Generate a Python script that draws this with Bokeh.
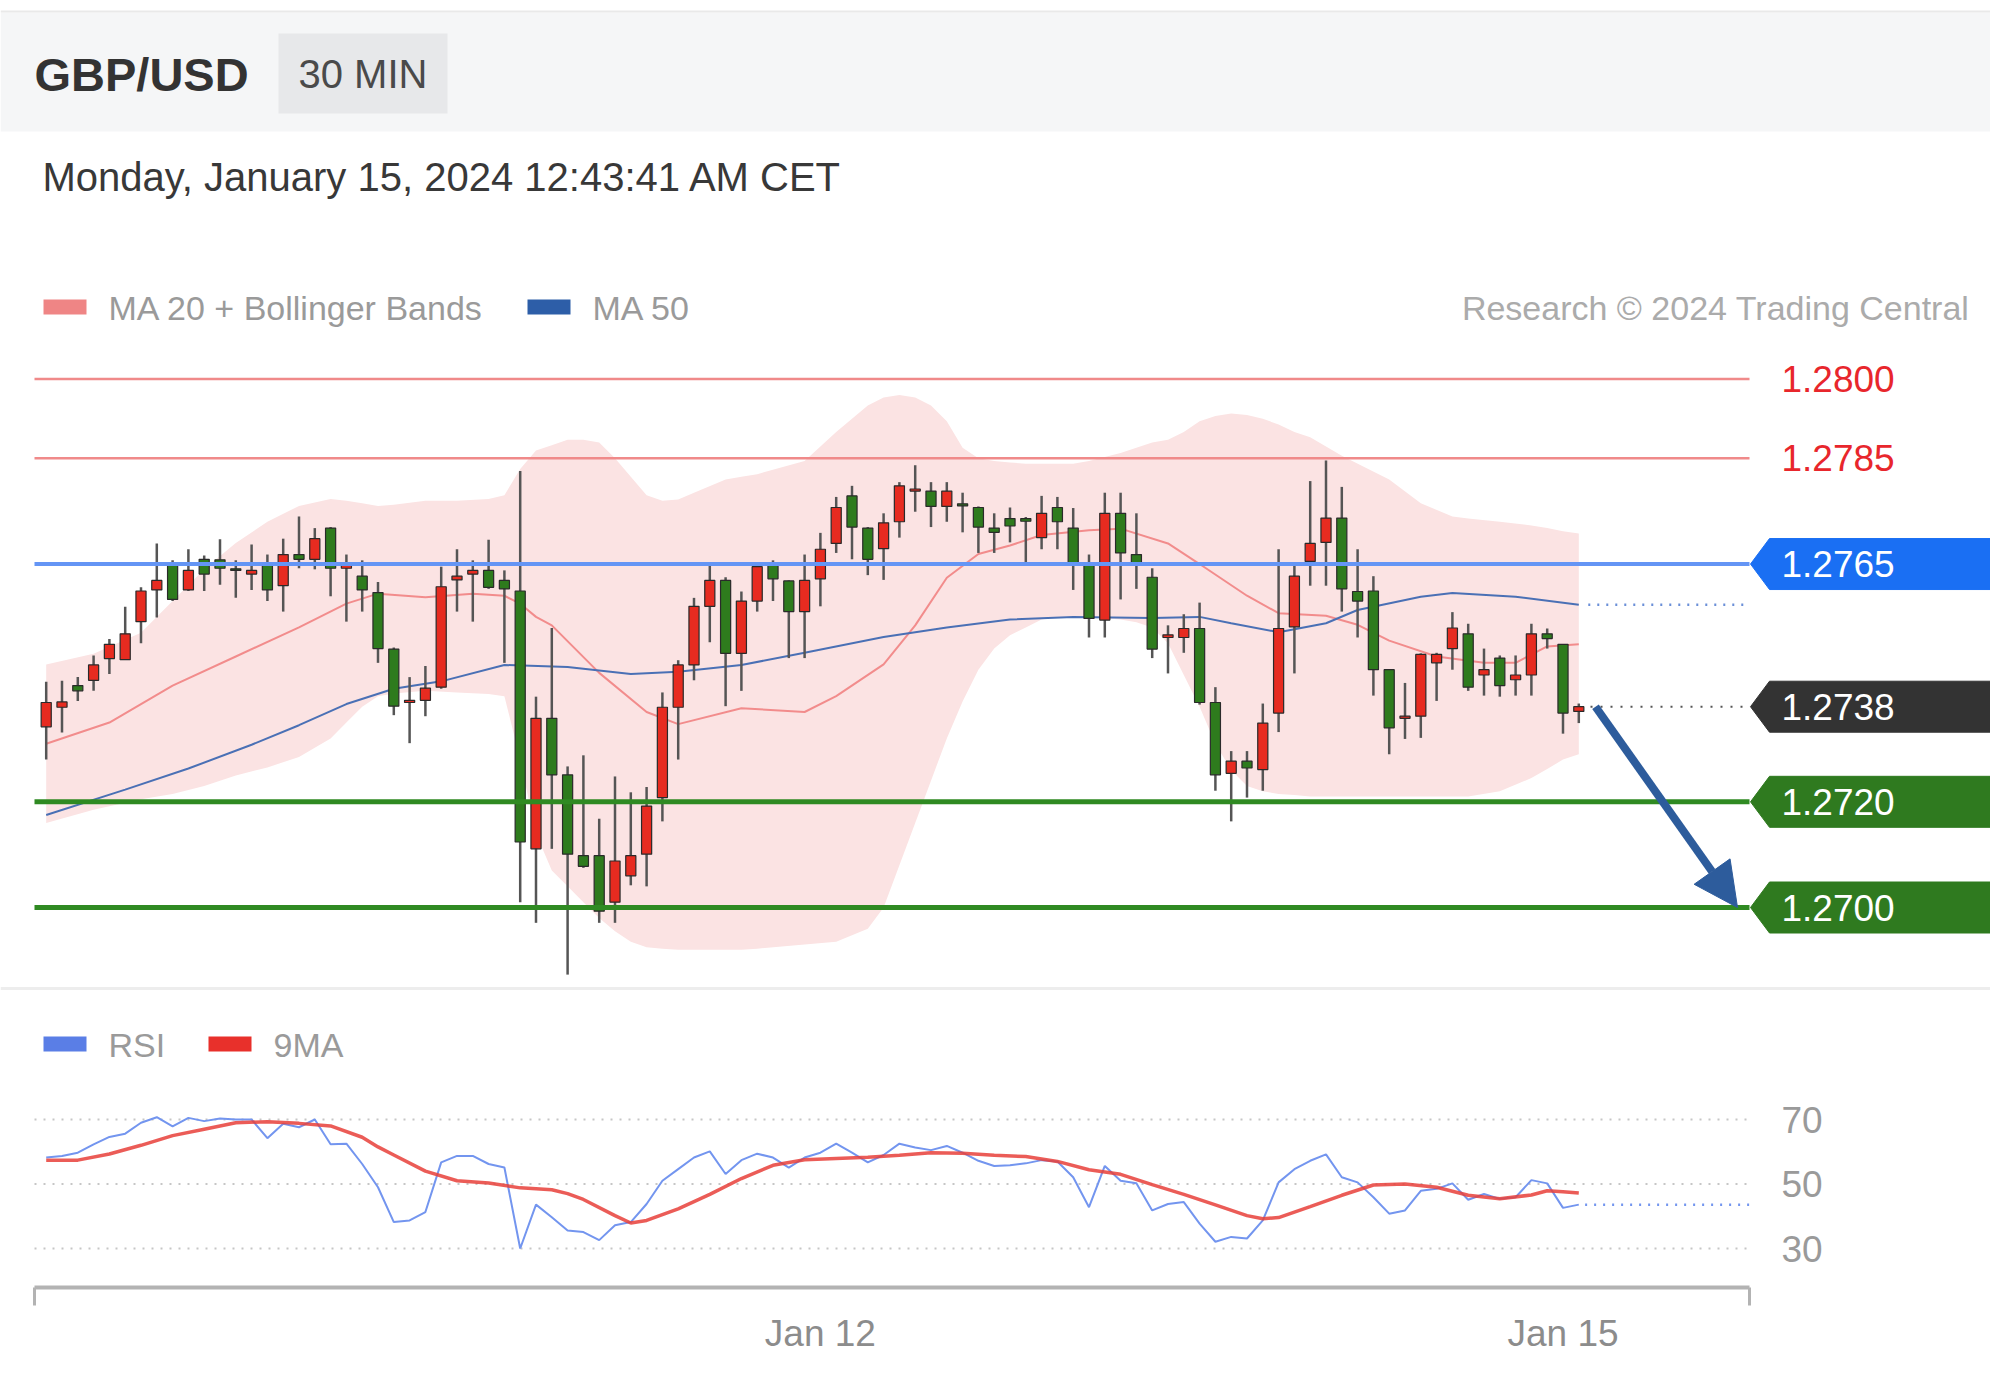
from bokeh.plotting import figure
from bokeh.models import Range1d, FixedTicker, Label, Arrow, NormalHead, ColumnDataSource
from bokeh.embed import file_html
from bokeh.resources import INLINE

# ---------------- data ----------------
symbol = "GBP/USD"
timeframe = "30 MIN"
timestamp = "Monday, January 15, 2024 12:43:41 AM CET"
legend_main = ["MA 20 + Bollinger Bands", "MA 50"]
legend_rsi = ["RSI", "9MA"]
credit = "Research \u00a9 2024 Trading Central"

opens = [1.27342, 1.27379, 1.27420, 1.27430, 1.27471, 1.27469, 1.27541, 1.27601, 1.27651, 1.27601,
         1.27659, 1.27658, 1.27641, 1.27631, 1.27648, 1.27609, 1.27668, 1.27659, 1.27718, 1.27642,
         1.27627, 1.27596, 1.27489, 1.27388, 1.27392, 1.27417, 1.27620, 1.27631, 1.27638, 1.27619,
         1.27599, 1.27111, 1.27358, 1.27251, 1.27098, 1.27098, 1.27010, 1.27060, 1.27101, 1.27208,
         1.27379, 1.27459, 1.27570, 1.27619, 1.27481, 1.27580, 1.27648, 1.27618, 1.27560, 1.27622,
         1.27689, 1.27779, 1.27718, 1.27679, 1.27730, 1.27788, 1.27788, 1.27759, 1.27764, 1.27757,
         1.27718, 1.27736, 1.27736, 1.27700, 1.27757, 1.27718, 1.27651, 1.27544, 1.27746, 1.27668,
         1.27625, 1.27511, 1.27511, 1.27528, 1.27388, 1.27254, 1.27277, 1.27261, 1.27368, 1.27531,
         1.27655, 1.27691, 1.27737, 1.27598, 1.27599, 1.27450, 1.27358, 1.27362, 1.27463, 1.27490,
         1.27518, 1.27440, 1.27472, 1.27431, 1.27440, 1.27518, 1.27498, 1.27371]
highs = [1.27427, 1.27429, 1.27436, 1.27477, 1.27508, 1.27569, 1.27606, 1.27689, 1.27657, 1.27678,
         1.27666, 1.27697, 1.27657, 1.27687, 1.27668, 1.27698, 1.27740, 1.27718, 1.27720, 1.27668,
         1.27657, 1.27616, 1.27492, 1.27436, 1.27457, 1.27645, 1.27678, 1.27657, 1.27696, 1.27638,
         1.27826, 1.27399, 1.27529, 1.27267, 1.27288, 1.27168, 1.27248, 1.27218, 1.27228, 1.27407,
         1.27468, 1.27586, 1.27648, 1.27625, 1.27598, 1.27648, 1.27657, 1.27619, 1.27668, 1.27709,
         1.27777, 1.27798, 1.27720, 1.27746, 1.27805, 1.27837, 1.27805, 1.27805, 1.27785, 1.27759,
         1.27746, 1.27757, 1.27739, 1.27779, 1.27777, 1.27756, 1.27668, 1.27785, 1.27785, 1.27746,
         1.27642, 1.27534, 1.27555, 1.27577, 1.27417, 1.27296, 1.27296, 1.27386, 1.27678, 1.27651,
         1.27807, 1.27846, 1.27796, 1.27678, 1.27627, 1.27450, 1.27425, 1.27481, 1.27482, 1.27559,
         1.27537, 1.27490, 1.27477, 1.27477, 1.27537, 1.27528, 1.27498, 1.27386]
lows = [1.27280, 1.27331, 1.27391, 1.27410, 1.27442, 1.27469, 1.27500, 1.27549, 1.27580, 1.27599,
        1.27599, 1.27611, 1.27586, 1.27601, 1.27580, 1.27560, 1.27642, 1.27640, 1.27589, 1.27541,
        1.27560, 1.27463, 1.27364, 1.27311, 1.27362, 1.27414, 1.27560, 1.27541, 1.27603, 1.27463,
        1.27010, 1.26971, 1.27111, 1.26873, 1.27075, 1.26971, 1.26971, 1.27042, 1.27040, 1.27163,
        1.27280, 1.27430, 1.27502, 1.27381, 1.27410, 1.27560, 1.27580, 1.27472, 1.27472, 1.27570,
        1.27671, 1.27659, 1.27629, 1.27620, 1.27700, 1.27749, 1.27720, 1.27730, 1.27710, 1.27671,
        1.27671, 1.27691, 1.27651, 1.27678, 1.27678, 1.27601, 1.27511, 1.27511, 1.27583, 1.27603,
        1.27472, 1.27443, 1.27482, 1.27384, 1.27221, 1.27163, 1.27208, 1.27221, 1.27332, 1.27443,
        1.27609, 1.27609, 1.27560, 1.27511, 1.27401, 1.27290, 1.27319, 1.27321, 1.27391, 1.27450,
        1.27410, 1.27401, 1.27399, 1.27401, 1.27401, 1.27490, 1.27329, 1.27349]
closes = [1.27388, 1.27389, 1.27410, 1.27459, 1.27498, 1.27518, 1.27599, 1.27619, 1.27583, 1.27638,
          1.27631, 1.27642, 1.27638, 1.27638, 1.27601, 1.27668, 1.27659, 1.27698, 1.27642, 1.27648,
          1.27601, 1.27490, 1.27381, 1.27392, 1.27415, 1.27607, 1.27627, 1.27638, 1.27606, 1.27603,
          1.27124, 1.27358, 1.27251, 1.27101, 1.27078, 1.26993, 1.27088, 1.27098, 1.27192, 1.27379,
          1.27459, 1.27570, 1.27619, 1.27481, 1.27580, 1.27645, 1.27622, 1.27560, 1.27619, 1.27678,
          1.27757, 1.27720, 1.27659, 1.27728, 1.27798, 1.27792, 1.27759, 1.27788, 1.27760, 1.27720,
          1.27710, 1.27722, 1.27731, 1.27746, 1.27730, 1.27651, 1.27547, 1.27746, 1.27671, 1.27651,
          1.27489, 1.27516, 1.27528, 1.27388, 1.27251, 1.27277, 1.27264, 1.27349, 1.27528, 1.27627,
          1.27689, 1.27737, 1.27603, 1.27580, 1.27450, 1.27340, 1.27362, 1.27479, 1.27479, 1.27529,
          1.27417, 1.27450, 1.27420, 1.27440, 1.27518, 1.27509, 1.27368, 1.27380]

band_idx = [0, 3, 6, 8, 10, 12, 14, 16, 18, 19, 20, 21, 22, 24, 26, 28, 29, 30, 31, 32,
            33, 34, 35, 36, 37, 38, 39, 40, 41, 43, 44, 45, 48, 50, 52, 53, 54, 55, 56, 57,
            58, 59, 60, 61, 62, 63, 64, 65, 66, 68, 69, 70, 71, 72, 73, 74, 75, 76, 77, 78,
            79, 80, 82, 85, 87, 89, 90, 92, 94, 95, 96, 97]
band_upper = [1.27460, 1.27480, 1.27520, 1.27580, 1.27640, 1.27690, 1.27730, 1.27760, 1.27773, 1.27770,
              1.27765, 1.27760, 1.27762, 1.27770, 1.27770, 1.27773, 1.27780, 1.27830, 1.27865, 1.27875,
              1.27885, 1.27885, 1.27880, 1.27850, 1.27815, 1.27780, 1.27770, 1.27772, 1.27785, 1.27810,
              1.27815, 1.27820, 1.27845, 1.27900, 1.27950, 1.27965, 1.27970, 1.27965, 1.27950, 1.27920,
              1.27870, 1.27850, 1.27845, 1.27842, 1.27840, 1.27840, 1.27840, 1.27840, 1.27845, 1.27860,
              1.27870, 1.27880, 1.27885, 1.27900, 1.27920, 1.27930, 1.27935, 1.27932, 1.27925, 1.27914,
              1.27900, 1.27890, 1.27855, 1.27810, 1.27765, 1.27740, 1.27736, 1.27730, 1.27723, 1.27718,
              1.27712, 1.27708]
band_lower = [1.27160, 1.27185, 1.27205, 1.27215, 1.27230, 1.27250, 1.27265, 1.27285, 1.27320, 1.27350,
              1.27380, 1.27400, 1.27405, 1.27410, 1.27407, 1.27404, 1.27400, 1.27280, 1.27140, 1.27070,
              1.27040, 1.27010, 1.26980, 1.26955, 1.26935, 1.26925, 1.26922, 1.26920, 1.26920, 1.26920,
              1.26920, 1.26922, 1.26930, 1.26935, 1.26960, 1.27000, 1.27080, 1.27160, 1.27240, 1.27320,
              1.27390, 1.27450, 1.27490, 1.27515, 1.27530, 1.27545, 1.27550, 1.27550, 1.27550, 1.27545,
              1.27540, 1.27530, 1.27500, 1.27440, 1.27380, 1.27310, 1.27260, 1.27230, 1.27220, 1.27215,
              1.27213, 1.27210, 1.27210, 1.27210, 1.27210, 1.27210, 1.27210, 1.27220, 1.27245, 1.27262,
              1.27280, 1.27290]

ma20_idx = [0, 4, 8, 12, 16, 19, 21, 24, 27, 29, 30, 31, 32, 35, 38, 40, 44, 48, 50, 53,
            55, 57, 59, 61, 63, 66, 68, 71, 73, 76, 78, 81, 83, 85, 88, 91, 93, 95, 97]
ma20 = [1.27310, 1.27350, 1.27420, 1.27475, 1.27530, 1.27575, 1.27594, 1.27587, 1.27594, 1.27590,
        1.27575, 1.27550, 1.27534, 1.27444, 1.27370, 1.27347, 1.27377, 1.27370, 1.27400, 1.27460,
        1.27534, 1.27624, 1.27669, 1.27685, 1.27705, 1.27714, 1.27717, 1.27689, 1.27650, 1.27590,
        1.27557, 1.27552, 1.27535, 1.27505, 1.27475, 1.27463, 1.27463, 1.27494, 1.27498]

ma50_idx = [0, 5, 9, 13, 16, 19, 22, 25, 29, 33, 37, 40, 44, 48, 53, 57, 61, 65, 70, 73,
            75, 78, 81, 83, 87, 89, 93, 97]
ma50 = [1.27175, 1.27223, 1.27263, 1.27308, 1.27345, 1.27385, 1.27414, 1.27428, 1.27459, 1.27455,
        1.27442, 1.27446, 1.27459, 1.27482, 1.27512, 1.27530, 1.27545, 1.27550, 1.27548, 1.27550,
        1.27538, 1.27521, 1.27538, 1.27563, 1.27588, 1.27595, 1.27588, 1.27573]

levels = [1.2800, 1.2785, 1.2765, 1.2738, 1.2720, 1.2700]
level_kinds = ["resistance", "resistance", "pivot", "last", "support", "support"]
target = 1.2700

rsi = [58.2, 58.7, 59.7, 62.3, 64.6, 65.6, 69.0, 70.7, 67.9, 70.5,
       69.5, 70.3, 70.0, 70.0, 64.2, 68.7, 67.6, 70.0, 62.3, 62.5,
       56.2, 49.0, 38.2, 38.7, 41.3, 56.7, 58.7, 58.7, 56.2, 55.1,
       30.0, 43.6, 39.7, 35.6, 35.1, 32.6, 37.2, 38.2, 43.8, 51.0,
       54.6, 58.2, 60.1, 53.1, 57.4, 59.4, 58.2, 55.1, 58.2, 59.7,
       62.5, 59.7, 56.7, 59.0, 62.5, 61.3, 60.5, 61.8, 59.7, 57.2,
       55.6, 55.8, 56.4, 57.4, 57.0, 52.1, 42.8, 55.6, 51.0, 50.2,
       41.8, 43.8, 44.4, 37.7, 32.1, 33.6, 33.1, 38.7, 50.5, 54.6,
       57.2, 59.2, 52.1, 50.5, 45.9, 40.8, 41.8, 47.9, 48.5, 50.2,
       45.1, 46.9, 45.4, 45.9, 51.2, 50.2, 42.6, 43.6]
ma9_idx = [0, 2, 4, 6, 8, 10, 12, 14, 16, 18, 20, 21, 22, 24, 26, 28, 30, 32, 33, 34,
           36, 37, 38, 40, 42, 44, 46, 48, 50, 52, 54, 56, 58, 60, 62, 64, 66, 68, 70, 72,
           74, 76, 77, 78, 80, 82, 84, 86, 88, 90, 92, 94, 95, 96, 97]
ma9 = [57.4, 57.4, 59.3, 62.0, 65.0, 67.0, 69.0, 69.3, 68.8, 68.0,
       64.5, 61.5, 59.0, 54.0, 51.0, 50.3, 48.8, 48.2, 47.0, 45.2,
       40.2, 37.9, 38.7, 42.3, 46.8, 51.7, 55.8, 57.5, 57.9, 58.3,
       58.9, 59.7, 59.5, 58.9, 58.5, 57.0, 54.4, 53.0, 49.8, 46.8,
       43.5, 40.2, 39.2, 39.6, 43.0, 46.5, 49.7, 50.0, 49.0, 46.5,
       45.4, 46.6, 47.9, 47.6, 47.2]
rsi_levels = [70, 50, 30]

tick_idx = [49, 96]
tick_labels = ["Jan 12", "Jan 15"]

# ---------------- layout: reference pixel -> data coordinates ----------------
X0PX, DXPX = 45.7, 15.8                  # x pixel of bar 0, pixels per bar
PY_BASE, PX_PER_PRICE = 907.0, 52840.0   # y pixel of 1.2700, pixels per price unit
R_PY70, R_PY30 = 1119.0, 1248.0          # y pixels of RSI 70 / 30


def X(px):
    return (px - X0PX) / DXPX


def Y(py):
    return 1.27 + (PY_BASE - py) / PX_PER_PRICE


def R(py):
    return 70.0 - (py - R_PY70) * 40.0 / (R_PY30 - R_PY70)


W, H = 1990, 1396
FRAME_BOTTOM = 1287
FONT = "Liberation Sans"

p = figure(width=W, height=H, output_backend="svg", toolbar_location=None,
           x_range=Range1d(X(0), X(W)),
           y_range=Range1d(Y(FRAME_BOTTOM), Y(0)),
           y_axis_location=None)
p.min_border = 0
p.min_border_left = 0
p.min_border_right = 0
p.min_border_top = 0
p.min_border_bottom = H - FRAME_BOTTOM
p.extra_y_ranges = {"rsi": Range1d(R(FRAME_BOTTOM), R(0))}
p.outline_line_color = None
p.grid.visible = False
p.background_fill_color = "white"
p.border_fill_color = "white"

L_PLOT, R_PLOT = X(34), X(1749)


def label(xpx, ypx, text, size, color, bold=False, align="left"):
    p.add_layout(Label(x=X(xpx), y=Y(ypx), text=text, text_font=FONT,
                       text_font_size=f"{size}px", text_color=color,
                       text_font_style="bold" if bold else "normal",
                       text_align=align, text_baseline="middle"))


# ---------------- header ----------------
p.quad(left=X(0), right=X(2000), top=Y(12), bottom=Y(131), fill_color="#f5f6f7", line_color=None)
p.segment(x0=X(0), y0=Y(11), x1=X(2000), y1=Y(11), line_color="#e9e9e9", line_width=2)
p.quad(left=X(278), right=X(447), top=Y(33), bottom=Y(113), fill_color="#e7e8ea", line_color=None)
label(34, 74, symbol, 47, "#333333", bold=True)
label(298, 73, timeframe, 40, "#4a4a4a")
label(42, 176, timestamp, 40, "#383838")

# main legend
p.quad(left=X(43), right=X(86), top=Y(299), bottom=Y(314), fill_color="#ef8585", line_color=None)
label(108, 307, legend_main[0], 34, "#9a9a9a")
p.quad(left=X(527), right=X(570), top=Y(299), bottom=Y(314), fill_color="#2d5ea8", line_color=None)
label(592, 307, legend_main[1], 34, "#9a9a9a")
label(1969, 307, credit, 34, "#ababab", align="right")

# ---------------- price panel ----------------
p.varea(x=band_idx, y1=band_lower, y2=band_upper, fill_color="#fbe3e3")
p.line(ma20_idx, ma20, line_color="#f28c8c", line_width=2)
p.line(ma50_idx, ma50, line_color="#4a70b5", line_width=2)
p.line([ma50_idx[-1] + 0.6, R_PLOT], [ma50[-1], ma50[-1]], line_color="#6a8fd8",
       line_width=2.5, line_dash="2 7")

n = len(closes)
idx = list(range(n))
up = [c >= o for o, c in zip(opens, closes)]
src = ColumnDataSource(dict(
    x=idx, h=highs, l=lows,
    top=[max(o, c) for o, c in zip(opens, closes)],
    bottom=[min(o, c) for o, c in zip(opens, closes)],
    color=["#e72b20" if u else "#2e7b1d" for u in up]))
p.segment(x0="x", y0="l", x1="x", y1="h", source=src, line_color="#555555", line_width=2.5)
p.vbar(x="x", width=0.64, top="top", bottom="bottom", fill_color="color",
       line_color="#2a2a2a", line_width=1.2, source=src)

level_style = {
    "resistance": dict(color="#f08a8a", width=2.5, dash="solid", text="#e8262c", flag=None),
    "pivot": dict(color="#6495f5", width=4, dash="solid", text="white", flag="#1a6ff3"),
    "last": dict(color="#555555", width=2, dash="2 8", text="white", flag="#333333"),
    "support": dict(color="#2f8a22", width=5, dash="solid", text="white", flag="#2f7a1f"),
}
hh = 25.5 / PX_PER_PRICE
for lv, kind in zip(levels, level_kinds):
    st = level_style[kind]
    x_start = X(1590) if kind == "last" else L_PLOT
    p.segment(x0=x_start, y0=lv, x1=R_PLOT, y1=lv, line_color=st["color"],
              line_width=st["width"], line_dash=st["dash"])
    if st["flag"]:
        p.patch([X(1750), X(1769), X(2000), X(2000), X(1769)],
                [lv, lv + hh, lv + hh, lv - hh, lv - hh],
                fill_color=st["flag"], line_color=st["flag"])
    p.add_layout(Label(x=X(1781), y=lv, text=f"{lv:.4f}", text_font=FONT,
                       text_font_size="37px", text_color=st["text"],
                       text_align="left", text_baseline="middle"))

AC = "#2d5c9c"
p.add_layout(Arrow(end=NormalHead(size=44, fill_color=AC, line_color=AC),
                   x_start=X(1595), y_start=closes[-1], x_end=X(1737), y_end=target,
                   line_color=AC, line_width=8))

# separator
p.segment(x0=X(0), y0=Y(988), x1=X(2000), y1=Y(988), line_color="#ededed", line_width=3)

# ---------------- RSI panel ----------------
p.quad(left=X(43), right=X(86), top=Y(1036), bottom=Y(1051), fill_color="#5a7ee6", line_color=None)
label(108, 1044, legend_rsi[0], 34, "#9a9a9a")
p.quad(left=X(208), right=X(251), top=Y(1036), bottom=Y(1051), fill_color="#e8302b", line_color=None)
label(273, 1044, legend_rsi[1], 34, "#9a9a9a")

for lv in rsi_levels:
    p.segment(x0=L_PLOT, y0=lv, x1=R_PLOT, y1=lv, y_range_name="rsi",
              line_color="#c6c6c6", line_width=2, line_dash="2 7")
    p.add_layout(Label(x=X(1781), y=lv, y_range_name="rsi", text=str(lv), text_font=FONT,
                       text_font_size="37px", text_color="#9a9a9a",
                       text_align="left", text_baseline="middle"))

p.line(idx, rsi, y_range_name="rsi", line_color="#7395ef", line_width=2)
p.line(ma9_idx, ma9, y_range_name="rsi", line_color="#e8403a", line_width=3.5, line_alpha=0.85)
p.line([idx[-1] + 0.4, R_PLOT], [rsi[-1], rsi[-1]], y_range_name="rsi",
       line_color="#7395ef", line_width=2.5, line_dash="2 7")

# ---------------- x axis ----------------
ax = p.xaxis[0]
ax.ticker = FixedTicker(ticks=tick_idx, minor_ticks=[L_PLOT + 0.01, R_PLOT - 0.01])
ax.major_label_overrides = {t: s for t, s in zip(tick_idx, tick_labels)}
ax.bounds = (L_PLOT, R_PLOT)
ax.axis_line_color = "#b3b3b3"
ax.axis_line_width = 4
ax.major_tick_line_color = None
ax.major_tick_out = 0
ax.major_tick_in = 0
ax.minor_tick_line_color = "#b3b3b3"
ax.minor_tick_line_width = 3
ax.minor_tick_out = 18
ax.minor_tick_in = 0
ax.major_label_standoff = 7
ax.major_label_text_font = FONT
ax.major_label_text_font_size = "37px"
ax.major_label_text_color = "#8c8c8c"

open("out.html", "w").write(file_html(p, INLINE))
